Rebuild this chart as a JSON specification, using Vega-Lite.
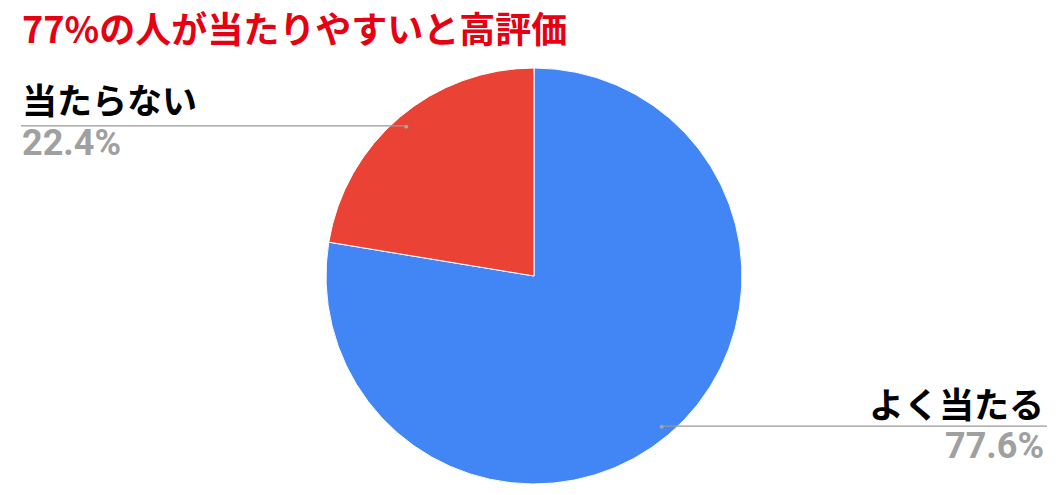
{
  "$schema": "https://vega.github.io/schema/vega-lite/v6.json",
  "width": 1054,
  "height": 438,
  "autosize": {"type": "none"},
  "padding": {"left": 7, "top": 57, "right": 0, "bottom": 0},
  "background": "white",
  "title": {
    "text": "77%の人が当たりやすいと高評価",
    "anchor": "start",
    "frame": "group",
    "orient": "top",
    "font": "Noto Sans CJK JP",
    "fontSize": 36,
    "fontWeight": "bold",
    "color": "#e60012",
    "baseline": "alphabetic",
    "offset": 12,
    "dx": 15,
    "dy": 34
  },
  "config": {"view": {"stroke": null}},
  "data": {
    "values": [
      {"label": "よく当たる", "value": 77.6},
      {"label": "当たらない", "value": 22.4}
    ]
  },
  "transform": [
    {"calculate": "format(datum.value, '.1f') + '%'", "as": "pct"}
  ],
  "layer": [
    {
      "mark": {"type": "arc", "outerRadius": 208, "stroke": "white", "strokeWidth": 1},
      "encoding": {
        "theta": {"field": "value", "type": "quantitative", "stack": true},
        "order": {"field": "value", "sort": "descending"},
        "color": {
          "field": "label",
          "type": "nominal",
          "scale": {"domain": ["よく当たる", "当たらない"], "range": ["#4285f4", "#ea4335"]},
          "legend": null
        }
      }
    },
    {
      "mark": {"type": "text", "radius": 197, "text": "●", "fontSize": 5, "color": "#a8a8a8", "baseline": "middle", "align": "center", "font": "DejaVu Sans"},
      "encoding": {
        "theta": {"field": "value", "type": "quantitative", "stack": true},
        "order": {"field": "value", "sort": "descending"}
      }
    },
    {
      "transform": [{"filter": "datum.label === '当たらない'"}],
      "mark": {"type": "rule", "color": "#999999", "strokeWidth": 1.2},
      "encoding": {
        "x": {"datum": -2.4663, "type": "quantitative", "scale": {"domain": [-2.5337, 2.5337], "nice": false, "zero": false}, "axis": null},
        "x2": {"datum": -0.6127},
        "y": {"datum": 0.722, "type": "quantitative", "scale": {"domain": [-1.0529, 1.0529], "nice": false, "zero": false}, "axis": null}
      }
    },
    {
      "transform": [{"filter": "datum.label === '当たらない'"}],
      "mark": {"type": "text", "align": "left", "baseline": "alphabetic", "font": "Noto Sans CJK JP", "fontSize": 35, "fontWeight": "bold", "color": "#000000"},
      "encoding": {
        "x": {"datum": -2.4615, "type": "quantitative", "scale": {"domain": [-2.5337, 2.5337], "nice": false, "zero": false}, "axis": null},
        "y": {"datum": 0.779, "type": "quantitative", "scale": {"domain": [-1.0529, 1.0529], "nice": false, "zero": false}, "axis": null},
        "text": {"field": "label"}
      }
    },
    {
      "transform": [{"filter": "datum.label === '当たらない'"}],
      "mark": {"type": "text", "align": "left", "baseline": "alphabetic", "font": "Roboto", "fontSize": 36, "fontWeight": "bold", "color": "#a0a0a0"},
      "encoding": {
        "x": {"datum": -2.4615, "type": "quantitative", "scale": {"domain": [-2.5337, 2.5337], "nice": false, "zero": false}, "axis": null},
        "y": {"datum": 0.582, "type": "quantitative", "scale": {"domain": [-1.0529, 1.0529], "nice": false, "zero": false}, "axis": null},
        "text": {"field": "pct"}
      }
    },
    {
      "transform": [{"filter": "datum.label === 'よく当たる'"}],
      "mark": {"type": "rule", "color": "#999999", "strokeWidth": 1.2},
      "encoding": {
        "x": {"datum": 0.6127, "type": "quantitative", "scale": {"domain": [-2.5337, 2.5337], "nice": false, "zero": false}, "axis": null},
        "x2": {"datum": 2.466},
        "y": {"datum": -0.722, "type": "quantitative", "scale": {"domain": [-1.0529, 1.0529], "nice": false, "zero": false}, "axis": null}
      }
    },
    {
      "transform": [{"filter": "datum.label === 'よく当たる'"}],
      "mark": {"type": "text", "align": "right", "baseline": "alphabetic", "font": "Noto Sans CJK JP", "fontSize": 35, "fontWeight": "bold", "color": "#000000"},
      "encoding": {
        "x": {"datum": 2.452, "type": "quantitative", "scale": {"domain": [-2.5337, 2.5337], "nice": false, "zero": false}, "axis": null},
        "y": {"datum": -0.683, "type": "quantitative", "scale": {"domain": [-1.0529, 1.0529], "nice": false, "zero": false}, "axis": null},
        "text": {"field": "label"}
      }
    },
    {
      "transform": [{"filter": "datum.label === 'よく当たる'"}],
      "mark": {"type": "text", "align": "right", "baseline": "alphabetic", "font": "Roboto", "fontSize": 36, "fontWeight": "bold", "color": "#a0a0a0"},
      "encoding": {
        "x": {"datum": 2.452, "type": "quantitative", "scale": {"domain": [-2.5337, 2.5337], "nice": false, "zero": false}, "axis": null},
        "y": {"datum": -0.875, "type": "quantitative", "scale": {"domain": [-1.0529, 1.0529], "nice": false, "zero": false}, "axis": null},
        "text": {"field": "pct"}
      }
    }
  ]
}
